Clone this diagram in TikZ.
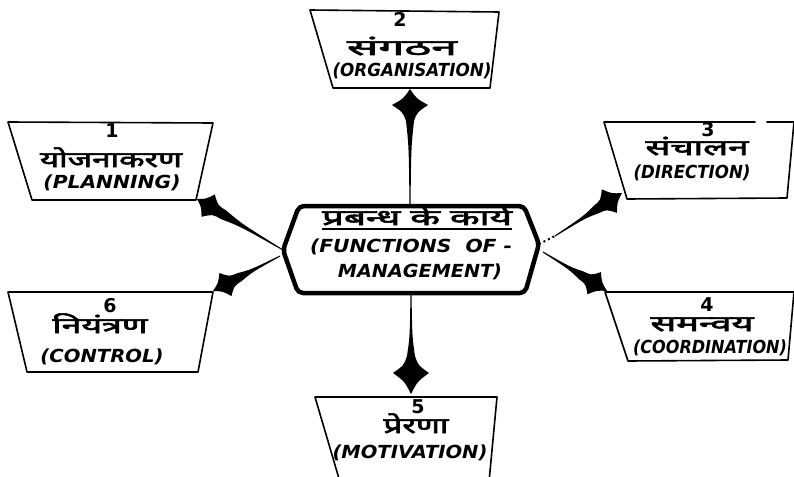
\documentclass[tikz,border=0pt]{standalone}
\usepackage{fontspec}
\usepackage{graphicx}
\usetikzlibrary{calc}
\newfontfamily\hindi[Script=Devanagari,FakeBold=2.5]{Noto Sans}
\newfontfamily\latn{DejaVu Sans}
\newcommand\fitw[2]{\resizebox{#1pt}{\height}{#2}}
% spike connector: #1 start, #2 tip, #3 front length, #4 head half-width, #5 back length, #6 shaft half-width
\newcommand\spikeconn[6]{%
 \coordinate (sq) at ($(#2)!{#3pt+#5pt}!(#1)$);
 \coordinate (sh) at ($(#2)!#3pt!(#1)$);
 \coordinate (sc) at ($(sq)!0.3!(#1)$);
 \fill[spikefill] (#2)
  .. controls ($(#2)!{0.6*#3pt}!(#1)!{0.36*#4pt}!90:(#1)$) .. ($(sh)!#4pt!90:(#1)$)
  .. controls ($(#2)!{#3pt+0.45*#5pt}!(#1)!{0.4*#4pt}!90:(#1)$) .. ($(sq)!#6pt!90:(#1)$)
  .. controls ($(sc)!{0.3*#6pt}!90:(#1)$) .. ($(#1)!0.5pt!-90:(#2)$)
  -- ($(#1)!0.5pt!90:(#2)$)
  .. controls ($(sc)!{0.3*#6pt}!-90:(#1)$) .. ($(sq)!#6pt!-90:(#1)$)
  .. controls ($(#2)!{#3pt+0.45*#5pt}!(#1)!{0.4*#4pt}!-90:(#1)$) .. ($(sh)!#4pt!-90:(#1)$)
  .. controls ($(#2)!{0.6*#3pt}!(#1)!{0.36*#4pt}!-90:(#1)$) .. (#2) -- cycle;}
\begin{document}
\begin{tikzpicture}[x=1pt,y=-1pt,
  trap/.style={line width=1.6pt, line join=round, line cap=round},
  hexline/.style={line width=4.5pt, rounded corners=5pt, line join=round},
  spikefill/.style={fill=black},
  numtxt/.style={anchor=base, inner sep=0pt, font=\latn\bfseries\fontsize{19}{19}\selectfont},
  hintxt/.style={anchor=base, inner sep=0pt, font=\hindi\fontsize{22}{22}\selectfont},
  engtxt/.style={anchor=base, inner sep=0pt, font=\latn\bfseries\itshape\fontsize{18}{18}\selectfont}]
\useasboundingbox (0,0) rectangle (794,476);
\fill[white] (0,0) rectangle (794,476);

% ---- box corners
\coordinate (b1tl) at (8,122);   \coordinate (b1tr) at (213,123);
\coordinate (b1br) at (196,200); \coordinate (b1bl) at (32,200);
\coordinate (b2tl) at (310,10);  \coordinate (b2tr) at (499,12);
\coordinate (b2br) at (490,88);  \coordinate (b2bl) at (333,88);
\coordinate (b3tl) at (604,122); \coordinate (b3tr) at (794,122);
\coordinate (b3br) at (787,198); \coordinate (b3bl) at (627,199);
\coordinate (b3g1) at (755,122); \coordinate (b3g2) at (767,122);
\coordinate (b4tl) at (605,292); \coordinate (b4tr) at (794,292);
\coordinate (b4br) at (788,360); \coordinate (b4bl) at (628,361);
\coordinate (b5tl) at (315,397); \coordinate (b5tr) at (497,397);
\coordinate (b5br) at (489,482); \coordinate (b5bl) at (340,482);
\coordinate (b6tl) at (8,292);   \coordinate (b6tr) at (213,292);
\coordinate (b6br) at (198,372); \coordinate (b6bl) at (27,372);

\draw[trap] (b1tl) -- (b1tr) -- (b1br) -- (b1bl) -- cycle;
\draw[trap] (b2tl) -- (b2tr) -- (b2br) -- (b2bl) -- cycle;
\draw[trap] (b3g2) -- (b3tr) -- (b3br) -- (b3bl) -- (b3tl) -- (b3g1);
\draw[trap] (b4tl) -- (b4tr) -- (b4br) -- (b4bl) -- cycle;
\draw[trap] (b5bl) -- (b5tl) -- (b5tr) -- (b5br);
\draw[trap] (b6tl) -- (b6tr) -- (b6br) -- (b6bl) -- cycle;

% ---- hexagon
\coordinate (hl) at (283,250);  \coordinate (htl) at (299,206);
\coordinate (htr) at (524,206); \coordinate (hr) at (539,244);
\coordinate (hbr) at (525,293); \coordinate (hbl) at (298,293);
\draw[hexline] (hl) -- (htl) -- (htr) -- (hr) -- (hbr) -- (hbl) -- cycle;

% ---- texts
\node[numtxt] (n1) at (112,137) {1};
\node[hintxt] (h1) at (111,167) {\fitw{142}{योजनाकरण}};
\node[engtxt] (e1) at (112,188) {\fitw{137}{(PLANNING)}};

\node[numtxt] (n2) at (400,27) {2};
\node[hintxt] (h2) at (402,55) {\fitw{110}{संगठन}};
\node[engtxt] (e2) at (412,77) {\fitw{159}{(ORGANISATION)}};

\node[numtxt] (n3) at (708,136) {3};
\node[hintxt] (h3) at (697,155) {\fitw{103}{संचालन}};
\node[engtxt] (e3) at (692,178) {\fitw{117}{(DIRECTION)}};

\node[numtxt] (n4) at (707,311) {4};
\node[hintxt] (h4) at (702,331) {\fitw{103}{समन्वय}};
\node[engtxt] (e4) at (710,353) {\fitw{154}{(COORDINATION)}};

\node[numtxt] (n5) at (418,413) {5};
\node[hintxt] (h5) at (416,433) {\fitw{65}{प्रेरणा}};
\node[engtxt] (e5) at (410,458) {\fitw{155}{(MOTIVATION)}};

\node[numtxt] (n6) at (110,312) {6};
\node[hintxt] (h6) at (100,333) {\fitw{95}{नियंत्रण}};
\node[engtxt] (e6) at (102,362) {\fitw{123}{(CONTROL)}};

\node[hintxt] (ch) at (417,225) {\fitw{190}{प्रबन्ध के कार्य}};
\draw[line width=1.4pt] ([yshift=-4pt]ch.base west) -- ([yshift=-4pt]ch.base east);
\node[engtxt] (ce1) at (411,252) {\fitw{202}{(FUNCTIONS\ \ OF -}};
\node[engtxt] (ce2) at (420,277) {\fitw{164}{MANAGEMENT)}};

% ---- connectors
\coordinate (ht) at (410,206);  \coordinate (tt) at (410,89);
\coordinate (hb) at (411,293);  \coordinate (tb) at (411,394);
\coordinate (t1) at (197,199);
\coordinate (hl2) at (280,256); \coordinate (t6) at (213,291);
\coordinate (r3s) at (555,236); \coordinate (t3) at (622,193);
\coordinate (hr2) at (543,252); \coordinate (t4) at (607,291);

\spikeconn{ht}{tt}{16}{18}{16}{4}
\spikeconn{hb}{tb}{21}{18}{17}{4}
\spikeconn{hl}{t1}{13}{13}{18}{5}
\spikeconn{hl2}{t6}{14}{13}{16}{4.5}
\spikeconn{r3s}{t3}{15}{14}{15}{4.5}
\spikeconn{hr2}{t4}{15}{13}{15}{4.5}
\draw[line width=2pt, dash pattern=on 2pt off 3pt] (hr) -- (r3s);
\end{tikzpicture}
\end{document}
